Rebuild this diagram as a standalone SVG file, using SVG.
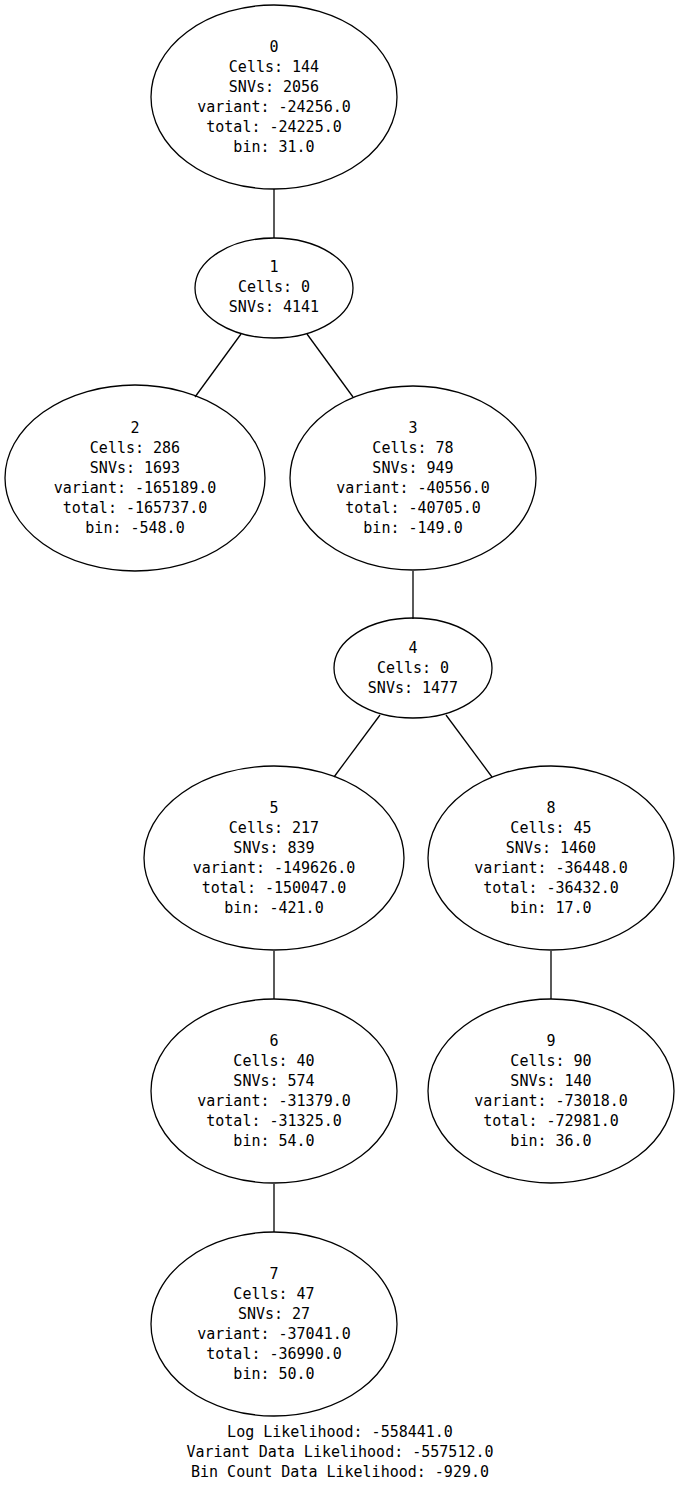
<svg xmlns="http://www.w3.org/2000/svg" width="680" height="1488" viewBox="0 0 680 1488">
<style>
.n ellipse{fill:none;stroke:#000;stroke-width:1.3}
text{font-family:"DejaVu Sans Mono","Liberation Mono",monospace;font-size:15px;fill:#000;text-anchor:middle}
#edges line{stroke:#000;stroke-width:1.3}
</style>
<rect width="680" height="1488" fill="#fff"/>
<g id="edges">
<line x1="274" y1="189" x2="274" y2="238"/>
<line x1="241" y1="334" x2="195" y2="397"/>
<line x1="307" y1="334" x2="353" y2="397"/>
<line x1="413" y1="571" x2="413" y2="619"/>
<line x1="380" y1="715" x2="334" y2="777"/>
<line x1="446" y1="715" x2="492" y2="777"/>
<line x1="274" y1="951" x2="274" y2="999"/>
<line x1="551" y1="951" x2="551" y2="999"/>
<line x1="274" y1="1184" x2="274" y2="1232"/>
</g>
<g id="node0" class="n"><ellipse cx="274" cy="97" rx="123" ry="92"/>
<text x="274" y="52">0</text><text x="274" y="72">Cells: 144</text><text x="274" y="92">SNVs: 2056</text><text x="274" y="112">variant: -24256.0</text><text x="274" y="132">total: -24225.0</text><text x="274" y="152">bin: 31.0</text></g>
<g id="node1" class="n"><ellipse cx="274" cy="288" rx="79" ry="50"/>
<text x="274" y="272">1</text><text x="274" y="292">Cells: 0</text><text x="274" y="312">SNVs: 4141</text></g>
<g id="node2" class="n"><ellipse cx="135" cy="478" rx="130" ry="93"/>
<text x="135" y="433">2</text><text x="135" y="453">Cells: 286</text><text x="135" y="473">SNVs: 1693</text><text x="135" y="493">variant: -165189.0</text><text x="135" y="513">total: -165737.0</text><text x="135" y="533">bin: -548.0</text></g>
<g id="node3" class="n"><ellipse cx="413" cy="478" rx="123" ry="92"/>
<text x="413" y="433">3</text><text x="413" y="453">Cells: 78</text><text x="413" y="473">SNVs: 949</text><text x="413" y="493">variant: -40556.0</text><text x="413" y="513">total: -40705.0</text><text x="413" y="533">bin: -149.0</text></g>
<g id="node4" class="n"><ellipse cx="413" cy="668" rx="79" ry="50"/>
<text x="413" y="653">4</text><text x="413" y="673">Cells: 0</text><text x="413" y="693">SNVs: 1477</text></g>
<g id="node5" class="n"><ellipse cx="274" cy="858" rx="130" ry="92"/>
<text x="274" y="813">5</text><text x="274" y="833">Cells: 217</text><text x="274" y="853">SNVs: 839</text><text x="274" y="873">variant: -149626.0</text><text x="274" y="893">total: -150047.0</text><text x="274" y="913">bin: -421.0</text></g>
<g id="node8" class="n"><ellipse cx="551" cy="858" rx="123" ry="92"/>
<text x="551" y="813">8</text><text x="551" y="833">Cells: 45</text><text x="551" y="853">SNVs: 1460</text><text x="551" y="873">variant: -36448.0</text><text x="551" y="893">total: -36432.0</text><text x="551" y="913">bin: 17.0</text></g>
<g id="node6" class="n"><ellipse cx="274" cy="1091" rx="123" ry="92"/>
<text x="274" y="1046">6</text><text x="274" y="1066">Cells: 40</text><text x="274" y="1086">SNVs: 574</text><text x="274" y="1106">variant: -31379.0</text><text x="274" y="1126">total: -31325.0</text><text x="274" y="1146">bin: 54.0</text></g>
<g id="node9" class="n"><ellipse cx="551" cy="1091" rx="123" ry="92"/>
<text x="551" y="1046">9</text><text x="551" y="1066">Cells: 90</text><text x="551" y="1086">SNVs: 140</text><text x="551" y="1106">variant: -73018.0</text><text x="551" y="1126">total: -72981.0</text><text x="551" y="1146">bin: 36.0</text></g>
<g id="node7" class="n"><ellipse cx="274" cy="1324" rx="123" ry="92"/>
<text x="274" y="1279">7</text><text x="274" y="1299">Cells: 47</text><text x="274" y="1319">SNVs: 27</text><text x="274" y="1339">variant: -37041.0</text><text x="274" y="1359">total: -36990.0</text><text x="274" y="1379">bin: 50.0</text></g>
<g id="legend">
<text x="340" y="1437">Log Likelihood: -558441.0</text>
<text x="340" y="1457">Variant Data Likelihood: -557512.0</text>
<text x="340" y="1477">Bin Count Data Likelihood: -929.0</text>
</g>
</svg>
